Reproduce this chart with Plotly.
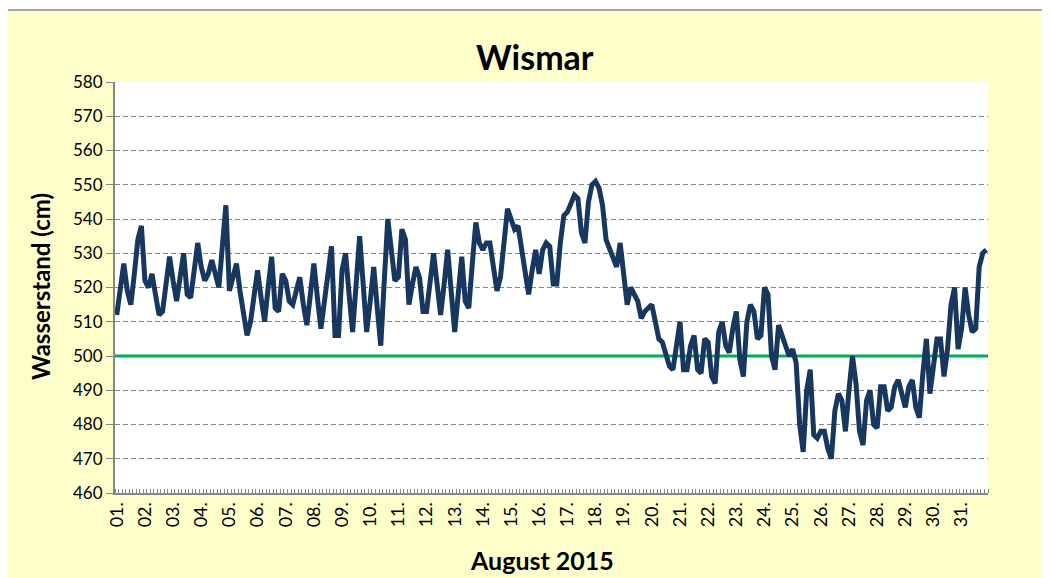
import plotly.graph_objects as go

# Day labels on the category axis (one label every 8 three-hourly values)
day_labels = ["01.", "02.", "03.", "04.", "05.", "06.", "07.", "08.", "09.", "10.",
              "11.", "12.", "13.", "14.", "15.", "16.", "17.", "18.", "19.", "20.",
              "21.", "22.", "23.", "24.", "25.", "26.", "27.", "28.", "29.", "30.", "31."]
values_per_day = 8

# Wasserstand Wismar, August 2015, three-hourly values (cm)
water_level = [
    512, 520, 527, 519, 515, 524, 534, 538, 522, 520,
    524, 518, 512, 513, 521, 529, 522, 516, 523, 530,
    518, 517, 525, 533, 526, 522, 524, 528, 524, 520,
    532, 544, 519, 523, 527, 519, 512, 506, 510, 518,
    525, 517, 510, 520, 529, 514, 513, 524, 522, 516,
    515, 519, 523, 515, 509, 518, 527, 517, 508, 516,
    524, 532, 506, 506, 525, 530, 518, 507, 521, 535,
    521, 507, 516, 526, 514, 503, 522, 540, 531, 522,
    523, 537, 534, 515, 521, 526, 523, 513, 513, 522,
    530, 521, 512, 521, 531, 519, 507, 518, 529, 516,
    514, 527, 539, 533, 531, 533, 533, 526, 519, 523,
    534, 543, 540, 537, 538, 531, 524, 518, 525, 531,
    524, 531, 533, 532, 521, 521, 533, 541, 542, 545,
    547, 546, 536, 533, 545, 550, 551, 549, 544, 534,
    531, 529, 526, 533, 525, 515, 520, 518, 516, 511,
    513, 514, 515, 510, 505, 504, 501, 497, 496, 503,
    510, 496, 496, 503, 506, 496, 495, 505, 504, 494,
    492, 507, 510, 503, 501, 508, 513, 499, 494, 510,
    515, 513, 505, 506, 520, 518, 500, 496, 509, 506,
    503, 500, 502, 498, 480, 472, 490, 496, 477, 476,
    478, 478, 473, 470, 484, 489, 487, 478, 490, 500,
    492, 478, 474, 487, 490, 480, 479, 491, 491, 484,
    485, 491, 493, 489, 485, 491, 493, 485, 482, 495,
    505, 489, 496, 505, 505, 494, 502, 515, 520, 502,
    508, 520, 512, 507, 508, 526, 530, 531,
]

threshold = 500  # reference level (cm)

y_min, y_max, y_step = 460, 580, 10

n = len(water_level)
x_idx = list(range(n))
tick_positions = [d * values_per_day for d in range(len(day_labels))]

FONT = "Lato"
GRID = "#868686"

fig = go.Figure()

# green reference line over the full category range
fig.add_trace(go.Scatter(
    x=[-0.5, n - 0.5], y=[threshold, threshold], mode="lines",
    line=dict(color="#00B050", width=3), hoverinfo="skip", showlegend=False,
))

fig.add_trace(go.Scatter(
    x=x_idx, y=water_level, mode="lines",
    line=dict(color="#17375E", width=5),
    showlegend=False,
))

fig.update_layout(
    width=1042, height=570,
    margin=dict(l=107, r=62, t=74, b=85),
    paper_bgcolor="white",
    plot_bgcolor="white",
    font=dict(family=FONT, size=17, color="black"),
    shapes=[
        dict(type="rect", xref="paper", yref="paper",
             x0=-0.1237, x1=1.063, y0=-0.30, y1=1.175,
             fillcolor="#FFFFCC", line=dict(color="#8C8C8C", width=1.5), layer="below"),
        dict(type="rect", xref="paper", yref="paper",
             x0=0, x1=1, y0=0, y1=1,
             fillcolor="white", line=dict(width=0), layer="below"),
    ],
    annotations=[
        dict(text="<b>Wismar</b>", xref="paper", yref="paper", x=0.481, y=1.061,
             xanchor="center", yanchor="middle", showarrow=False,
             font=dict(family=FONT, size=34, color="black")),
        dict(text="<b>August 2015</b>", xref="paper", yref="paper", x=0.489, y=-0.163,
             xanchor="center", yanchor="middle", showarrow=False,
             font=dict(family=FONT, size=25, color="black")),
        dict(text="<b>Wasserstand (cm)</b>", xref="paper", yref="paper", x=-0.0859, y=0.501,
             xanchor="center", yanchor="middle", showarrow=False, textangle=-90,
             font=dict(family=FONT, size=24, color="black")),
    ],
)

fig.update_xaxes(
    range=[-0.5, n - 0.5],
    tickmode="array", tickvals=tick_positions, ticktext=day_labels,
    tickangle=-90, ticks="", showgrid=False, zeroline=False,
    showline=True, linecolor=GRID, linewidth=2,
    tickfont=dict(family=FONT, size=18, color="black"),
    minor=dict(tickmode="linear", tick0=-0.5, dtick=1, ticks="inside",
               ticklen=4, tickcolor=GRID, tickwidth=1, showgrid=False),
)

fig.update_yaxes(
    range=[y_min, y_max], tickmode="linear", tick0=y_min, dtick=y_step,
    showgrid=True, gridcolor=GRID, gridwidth=1, griddash="5px,3px",
    zeroline=False, showline=True, linecolor=GRID, linewidth=2,
    ticks="outside", ticklen=7, tickcolor=GRID, tickwidth=1,
    tickfont=dict(family=FONT, size=17, color="black"),
)

fig.write_html("out.html")
